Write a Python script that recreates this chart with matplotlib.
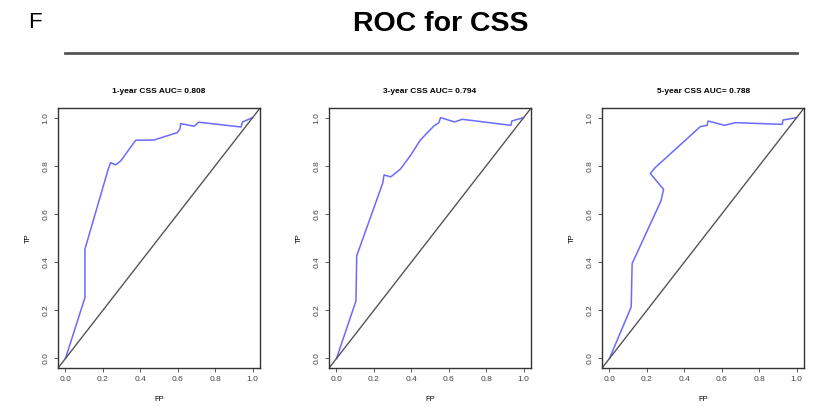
import matplotlib.pyplot as plt
import numpy as np

plt.rcParams['font.family'] = ['Liberation Sans', 'DejaVu Sans']

# ROC curves
titles = ["1-year CSS AUC= 0.808", "3-year CSS AUC= 0.794", "5-year CSS AUC= 0.788"]

fp_1 = [0.0, 0.104, 0.104, 0.228, 0.241, 0.268, 0.295, 0.375, 0.473, 0.598, 0.612, 0.616, 0.688, 0.711, 0.938, 0.946, 1.0]
tp_1 = [0.0, 0.253, 0.454, 0.785, 0.813, 0.804, 0.820, 0.906, 0.907, 0.938, 0.954, 0.975, 0.964, 0.981, 0.961, 0.982, 1.0]

fp_3 = [0.0, 0.104, 0.108, 0.247, 0.254, 0.290, 0.341, 0.394, 0.448, 0.520, 0.547, 0.556, 0.631, 0.672, 0.932, 0.937, 1.0]
tp_3 = [0.0, 0.239, 0.426, 0.728, 0.762, 0.754, 0.786, 0.841, 0.907, 0.965, 0.979, 1.0, 0.982, 0.993, 0.968, 0.986, 1.0]

fp_5 = [0.0, 0.116, 0.121, 0.275, 0.289, 0.218, 0.245, 0.486, 0.521, 0.527, 0.614, 0.673, 0.923, 0.927, 1.0]
tp_5 = [0.0, 0.214, 0.394, 0.654, 0.702, 0.768, 0.793, 0.963, 0.968, 0.986, 0.968, 0.979, 0.972, 0.990, 1.0]

curves = [(fp_1, tp_1), (fp_3, tp_3), (fp_5, tp_5)]
ticks = [0.0, 0.2, 0.4, 0.6, 0.8, 1.0]

fig = plt.figure(figsize=(8.25, 4.09), dpi=100)

# header
fig.text(0.034, 0.945, "F", fontsize=16, ha='left', va='center')
fig.text(0.534, 0.942, "ROC for CSS", fontsize=20.5, fontweight='bold', ha='center', va='center')
fig.add_artist(plt.Line2D([0.079, 0.966], [0.871, 0.871], color='#555555', lw=2))

lefts = [0.0703, 0.3988, 0.7297]
for left, title, (fp, tp) in zip(lefts, titles, curves):
    ax = fig.add_axes([left, 0.100, 0.245, 0.636])
    ax.plot(fp, tp, color='#6a6aff', lw=1.1)
    ax.axline((0, 0), (1, 1), color='#555555', lw=1.0)
    ax.set_xlim(-0.04, 1.04)
    ax.set_ylim(-0.04, 1.04)
    ax.set_xticks(ticks)
    ax.set_yticks(ticks)
    ax.set_xticklabels([f"{t:.1f}" for t in ticks], fontsize=6, color='#333333')
    ax.set_yticklabels([f"{t:.1f}" for t in ticks], fontsize=6, color='#333333',
                       rotation=90, va='center')
    ax.tick_params(length=3, width=0.6, pad=3, colors='#444444')
    for sp in ax.spines.values():
        sp.set_linewidth(1.0)
        sp.set_color('#333333')
    ax.set_title(title, fontsize=6, fontweight='bold', pad=11)
    ax.set_xlabel("FP", fontsize=5.5, labelpad=9)
    ax.set_ylabel("TP", fontsize=5.5, labelpad=8)

fig.savefig("out.png", dpi=100)
